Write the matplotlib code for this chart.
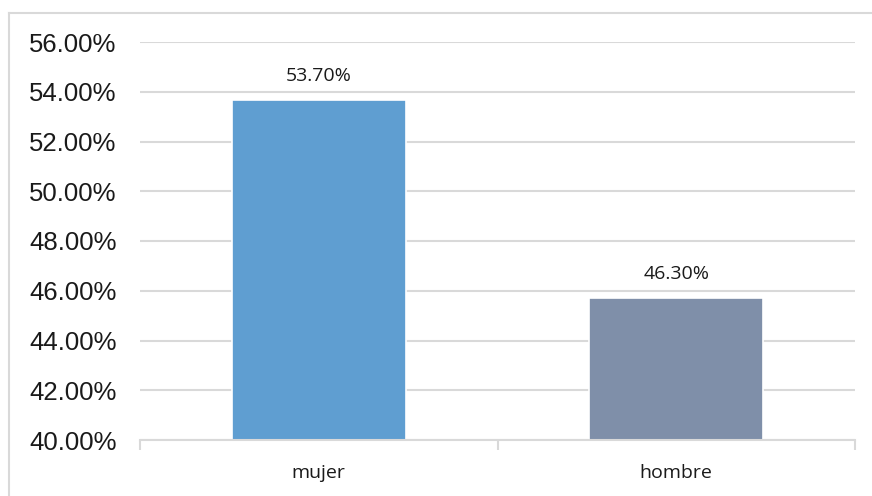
import matplotlib
matplotlib.use("Agg")
import matplotlib.pyplot as plt
from matplotlib.lines import Line2D
import numpy as np

categories = ["mujer", "hombre"]
bar_heights = [53.65, 45.7]          # drawn bar heights (%)
bar_labels = ["53.70%", "46.30%"]     # data labels as printed
bar_colors = ["#5f9ed1", "#7f8fa9"]
y_ticks = [40, 42, 44, 46, 48, 50, 52, 54, 56]

W, H = 872, 496
fig = plt.figure(figsize=(W / 100, H / 100), dpi=100)
ax = fig.add_axes([140 / W, 1 - 440 / H, (855 - 140) / W, (440 - 42) / H])

x = np.arange(len(categories))
bars = ax.bar(x, np.array(bar_heights) - 40, bottom=40, width=0.487,
              color=bar_colors, edgecolor="white", linewidth=1.2, zorder=3)

ax.set_xlim(-0.5, len(categories) - 0.5)
ax.set_ylim(40, 56)
ax.set_yticks(y_ticks)
ax.set_yticklabels([f"{v:.2f}%" for v in y_ticks],
                   fontfamily="Liberation Sans", fontsize=18.5, color="#1a1a1a")
ax.tick_params(axis="y", length=0, pad=17)

ax.set_xticks(x)
ax.set_xticklabels(categories, fontfamily="Open Sans", fontsize=14, color="#1a1a1a")
ax.tick_params(axis="x", length=0, pad=17)
# minor ticks at category boundaries
ax.set_xticks([-0.5, 0.5, 1.5], minor=True)
ax.tick_params(axis="x", which="minor", length=7, width=1.5, color="#d9d9d9", direction="out")

ax.grid(axis="y", color="#d9d9d9", linewidth=1.5, zorder=0)
ax.set_axisbelow(True)
for s in ["top", "right", "left"]:
    ax.spines[s].set_visible(False)
ax.spines["bottom"].set_color("#d9d9d9")
ax.spines["bottom"].set_linewidth(1.5)
ax.spines["bottom"].set_zorder(4)

for b, lab in zip(bars, bar_labels):
    ax.annotate(lab, (b.get_x() + b.get_width() / 2, b.get_y() + b.get_height()),
                xytext=(0, 11), textcoords="offset points", ha="center", va="bottom",
                fontfamily="Open Sans", fontsize=14, color="#1a1a1a")

# chart border (partially cut off on right and bottom)
fig.add_artist(Line2D([9 / W, 1.0], [1 - 12.5 / H, 1 - 12.5 / H], transform=fig.transFigure,
                      color="#d9d9d9", linewidth=1.5))
fig.add_artist(Line2D([9 / W, 9 / W], [0, 1 - 12.5 / H], transform=fig.transFigure,
                      color="#d9d9d9", linewidth=1.5))

fig.savefig("out.png", dpi=100, facecolor="white")
